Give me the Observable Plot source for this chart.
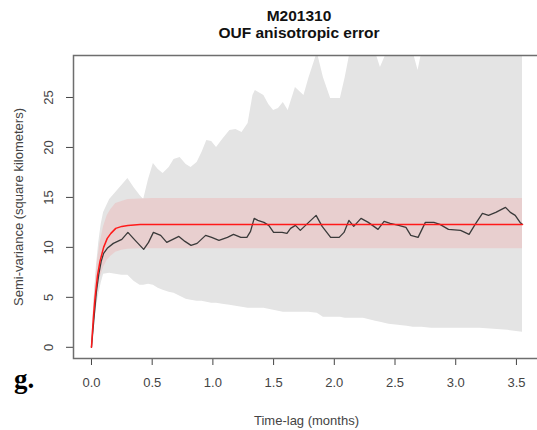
<!DOCTYPE html>
<html>
<head>
<meta charset="utf-8">
<script src="https://cdn.jsdelivr.net/npm/d3@7"></script>
<script src="https://cdn.jsdelivr.net/npm/@observablehq/plot@0.6"></script>
<style>
  html, body { margin: 0; padding: 0; background: #fff; }
  #wrap { position: relative; width: 537px; height: 430px; overflow: hidden; }
  #chart { position: absolute; left: 0; top: 0; width: 545px; }
  #chart svg { max-width: none !important; }
  .title { position: absolute; left: 0; width: 598px; text-align: center;
           font-family: "Liberation Sans", Arial, sans-serif; font-weight: bold;
           font-size: 15.5px; color: #111; line-height: 1; }
  #panel { position: absolute; left: 14px; top: 364px;
           font-family: "Liberation Serif", "Times New Roman", serif;
           font-weight: bold; font-size: 27px; color: #000; }
</style>
</head>
<body>
<div id="wrap">
  <div id="chart"></div>
  <div class="title" style="top:8px">M201310</div>
  <div class="title" style="top:25px">OUF anisotropic error</div>
  <div id="panel">g.</div>
</div>
<script>
// Time-lag grid (months) of the simulated envelope and its bounds (km²)
const envLag   = [0, 0.02, 0.04, 0.06, 0.08, 0.10, 0.15, 0.20, 0.25, 0.30, 0.35, 0.40, 0.43, 0.47, 0.51, 0.55, 0.59, 0.64, 0.68, 0.73, 0.78, 0.82, 0.87, 0.91, 0.95, 0.99, 1.03, 1.08, 1.14, 1.19, 1.24, 1.29, 1.33, 1.35, 1.42, 1.46, 1.50, 1.54, 1.58, 1.62, 1.68, 1.75, 1.79, 1.86, 1.91, 1.97, 2.05, 2.09, 2.13, 2.24, 2.34, 2.38, 2.45, 2.60, 2.65, 2.69, 2.72, 2.80, 3.00, 3.20, 3.43, 3.55];
const envLow   = [0, 2.2, 3.9, 5.3, 6.4, 7.3, 7.4, 7.3, 7.2, 7.2, 6.6, 6.2, 6.2, 6.3, 6.2, 5.9, 5.7, 5.5, 5.4, 5.1, 4.8, 4.7, 4.6, 4.6, 4.5, 4.4, 4.4, 4.3, 4.2, 4.1, 4.0, 3.9, 3.9, 3.9, 3.9, 3.8, 3.7, 3.6, 3.5, 3.5, 3.5, 3.5, 3.5, 3.4, 3.0, 3.0, 3.0, 2.9, 2.9, 2.9, 2.6, 2.5, 2.3, 2.1, 2.0, 2.0, 2.0, 1.9, 1.9, 1.9, 1.7, 1.5];
const envHigh  = [0, 4.5, 8.0, 10.5, 12.3, 13.5, 14.8, 15.5, 16.2, 16.9, 16.0, 15.2, 14.8, 16.8, 18.4, 17.8, 17.4, 18.0, 18.8, 19.0, 18.3, 18.0, 18.5, 19.5, 20.7, 20.6, 20.0, 20.8, 21.7, 21.8, 21.5, 22.4, 25.2, 25.7, 25.2, 24.3, 23.7, 23.9, 24.5, 23.7, 26.0, 25.2, 26.9, 29.5, 27.0, 24.9, 24.9, 27.0, 29.5, 30.5, 29.5, 28.0, 30.0, 30.5, 29.5, 27.7, 29.5, 31.0, 32.0, 33.0, 34.0, 34.0];

// Fitted OUF model semi-variance with its confidence band
const modelLag  = [0, 0.01, 0.02, 0.03, 0.05, 0.07, 0.10, 0.13, 0.16, 0.20, 0.25, 0.30, 0.40, 0.50, 3.55];
const modelMean = [0, 1.9, 3.6, 5.0, 7.2, 8.6, 10.0, 10.9, 11.4, 11.9, 12.1, 12.2, 12.28, 12.3, 12.3];
const modelLow  = [0, 1.5, 2.9, 4.0, 5.8, 6.9, 8.0, 8.7, 9.1, 9.5, 9.7, 9.8, 9.85, 9.85, 9.85];
const modelHigh = [0, 2.3, 4.4, 6.1, 8.7, 10.4, 12.1, 13.2, 13.8, 14.4, 14.6, 14.8, 14.85, 14.9, 14.9];

// Empirical semi-variance
const empLag = [0, 0.02, 0.04, 0.06, 0.08, 0.10, 0.13, 0.18, 0.25, 0.30, 0.36, 0.43, 0.47, 0.51, 0.57, 0.62, 0.67, 0.72, 0.77, 0.82, 0.87, 0.94, 0.99, 1.05, 1.12, 1.17, 1.23, 1.28, 1.31, 1.34, 1.37, 1.42, 1.46, 1.50, 1.57, 1.61, 1.64, 1.68, 1.72, 1.78, 1.85, 1.90, 1.97, 2.04, 2.08, 2.12, 2.16, 2.22, 2.28, 2.36, 2.41, 2.46, 2.53, 2.59, 2.63, 2.69, 2.75, 2.82, 2.87, 2.94, 3.04, 3.11, 3.16, 3.22, 3.27, 3.33, 3.41, 3.45, 3.49, 3.53, 3.55];
const empVal = [0, 2.8, 5.5, 7.3, 8.6, 9.4, 9.9, 10.4, 10.8, 11.5, 10.7, 9.8, 10.5, 11.5, 11.2, 10.5, 10.8, 11.1, 10.6, 10.2, 10.4, 11.2, 11.0, 10.7, 11.0, 11.3, 11.0, 11.0, 11.6, 12.9, 12.7, 12.5, 12.2, 11.5, 11.5, 11.4, 11.9, 12.2, 11.7, 12.4, 13.2, 12.1, 11.0, 11.0, 11.5, 12.7, 12.1, 12.9, 12.5, 11.8, 12.6, 12.4, 12.2, 12.0, 11.2, 11.0, 12.5, 12.5, 12.3, 11.8, 11.7, 11.3, 12.3, 13.4, 13.2, 13.5, 14.0, 13.5, 13.2, 12.5, 12.3];

const xTicks = [0, 0.5, 1, 1.5, 2, 2.5, 3, 3.5];
const yTicks = [0, 5, 10, 15, 20, 25];

const envelope = envLag.map((x, i) => ({x, lo: envLow[i], hi: envHigh[i]}));
const model = modelLag.map((x, i) => ({x, m: modelMean[i], lo: modelLow[i], hi: modelHigh[i]}));
const emp = empLag.map((x, i) => ({x, y: empVal[i]}));

const plot = Plot.plot({
  width: 545,
  height: 430,
  marginTop: 55,
  marginBottom: 72,
  marginLeft: 73,
  marginRight: 6,
  style: {fontFamily: "'Liberation Sans', Arial, sans-serif", fontSize: "13px", color: "#444", background: "transparent", maxWidth: "none"},
  x: {domain: [-0.148, 3.69]},
  y: {domain: [-1.12, 29.2]},
  marks: [
    Plot.areaY(envelope, {x: "x", y1: "lo", y2: "hi", fill: "#e4e4e4", clip: true}),
    Plot.areaY(model, {x: "x", y1: "lo", y2: "hi", fill: "#e8cfcf", clip: true}),
    Plot.line(emp, {x: "x", y: "y", stroke: "#3a3a3a", strokeWidth: 1.3, clip: true}),
    Plot.line(model, {x: "x", y: "m", stroke: "#ff1a1a", strokeWidth: 1.5, clip: true}),
    Plot.axisX({ticks: xTicks, tickFormat: d3.format(".1f"), tickSize: 7, tickPadding: 12,
                label: "Time-lag (months)", labelAnchor: "center", labelOffset: 66, labelArrow: "none", stroke: "#444"}),
    Plot.axisY({ticks: yTicks, tickSize: 7, tickPadding: 14, tickRotate: -90,
                label: "Semi-variance (square kilometers)", labelAnchor: "center", labelOffset: 60, labelArrow: "none", stroke: "#444"}),
    Plot.frame({stroke: "#6e6e6e", strokeWidth: 1.5})
  ]
});
plot.style.maxWidth = "none";
document.getElementById("chart").append(plot);
</script>
</body>
</html>
